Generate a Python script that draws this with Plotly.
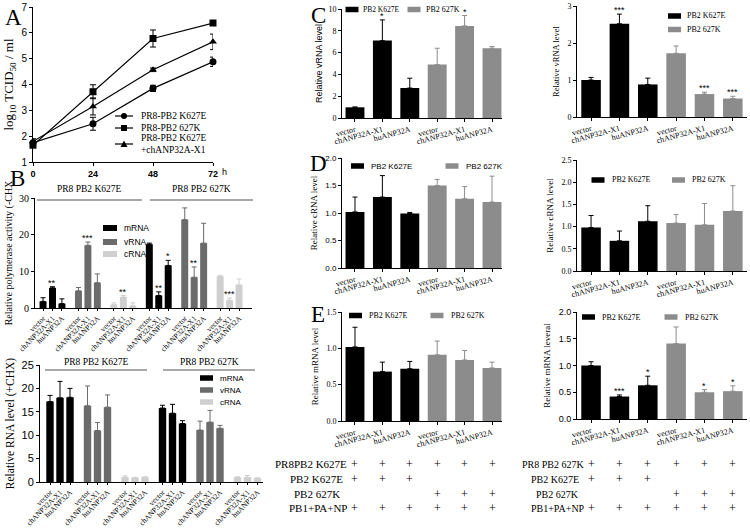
import plotly.graph_objects as go

# ---------------- data ----------------
hours = [0, 24, 48, 72]
a_k627e = [1.75, 2.48, 3.85, 4.88]
a_k627e_err = [0.08, 0.25, 0.12, 0.18]
a_627k = [1.65, 3.72, 5.78, 6.38]
a_627k_err = [0.08, 0.27, 0.33, 0.05]
a_x1 = [1.80, 3.15, 4.57, 5.65]
a_x1_err = [0.10, 0.33, 0.07, 0.30]
a_names = ["PR8-PB2 K627E", "PR8-PB2 627K", "PR8-PB2 K627E<br>+chANP32A-X1"]

constructs = ["vector", "chANP32A-X1", "huANP32A"]
viruses = ["PB2 K627E", "PB2 627K"]
rna_types = ["mRNA", "vRNA", "cRNA"]
b_group_titles = ["PR8 PB2 K627E", "PR8 PB2 627K"]

# B top (-CHX): K627E x3 then 627K x3
b1_mrna = [1.8, 5.5, 1.2, 17.4, 3.4, 11.6]
b1_mrna_err = [1.0, 0.3, 1.3, 0.3, 1.0, 1.4]
b1_mrna_sig = ["", "**", "", "", "**", "*"]
b1_vrna = [4.7, 17.1, 6.9, 24.1, 8.4, 17.7]
b1_vrna_err = [0.9, 0.9, 2.4, 3.2, 2.8, 5.4]
b1_vrna_sig = ["", "***", "", "", "**", ""]
b1_crna = [0.9, 3.0, 0.6, 8.6, 2.1, 6.3]
b1_crna_err = [0.5, 0.4, 0.8, 0.3, 0.6, 1.6]
b1_crna_sig = ["", "**", "", "", "***", ""]

# B bottom (+CHX)
b2_mrna = [17.2, 18.0, 18.1, 15.8, 14.7, 12.5]
b2_mrna_err = [1.3, 3.5, 1.9, 0.6, 1.9, 0.6]
b2_vrna = [16.3, 11.0, 16.0, 11.1, 12.8, 11.5]
b2_vrna_err = [4.2, 1.7, 2.6, 1.9, 2.5, 0.6]
b2_crna = [1.0, 0.9, 1.0, 1.0, 1.0, 0.8]
b2_crna_err = [0.3, 0.1, 0.1, 0.1, 0.4, 0.1]

# C-E: vector, chANP32A-X1, huANP32A for K627E then 627K
c1 = [0.98, 7.1, 2.75, 4.9, 8.45, 6.4]
c1_err = [0.03, 1.9, 0.9, 1.5, 0.95, 0.15]
c1_sig = ["", "*", "", "", "*", ""]
c2 = [1.0, 2.52, 0.88, 1.72, 0.62, 0.5]
c2_err = [0.07, 0.26, 0.17, 0.2, 0.05, 0.06]
c2_sig = ["", "***", "", "", "***", "***"]
d1 = [1.02, 1.29, 0.99, 1.5, 1.26, 1.2]
d1_err = [0.27, 0.39, 0.02, 0.11, 0.22, 0.47]
d2 = [0.98, 0.68, 1.12, 1.08, 1.04, 1.35]
d2_err = [0.27, 0.22, 0.35, 0.19, 0.48, 0.57]
e1 = [1.02, 0.68, 0.72, 0.91, 0.84, 0.73]
e1_err = [0.27, 0.13, 0.1, 0.19, 0.13, 0.08]
e2 = [1.0, 0.42, 0.63, 1.41, 0.5, 0.52]
e2_err = [0.07, 0.03, 0.17, 0.31, 0.05, 0.1]
e2_sig = ["", "***", "*", "", "*", "*"]

table_left_labels = ["PR8PB2 K627E", "PB2 K627E", "PB2 627K", "PB1+PA+NP"]
table_right_labels = ["PR8 PB2 627K", "PB2 K627E", "PB2 627K", "PB1+PA+NP"]
table_marks = [[1, 1, 1, 1, 1, 1], [1, 1, 1, 0, 0, 0], [0, 0, 0, 1, 1, 1], [1, 1, 1, 1, 1, 1]]

# ---------------- style ----------------
W, H = 750, 528
SERIF = "Liberation Serif"
SANS = "Liberation Sans"
BLACK = "#000000"
GREY = "#8c8c8c"
B_COLORS = ["#000000", "#6b6b6b", "#cfcfcf"]


def fx(p):
    return p / W


def fy(p):
    return 1 - p / H


fig = go.Figure()
annotations = []
shapes = []


def xax(d0, d1, rng, anchor, **kw):
    base = dict(domain=[fx(d0), fx(d1)], range=rng, anchor=anchor, showline=True,
                linecolor="black", linewidth=1, ticks="outside", ticklen=3,
                tickcolor="black", showgrid=False, zeroline=False, automargin=False)
    base.update(kw)
    return base


def yax(top, bottom, rng, anchor, **kw):
    base = dict(domain=[fy(bottom), fy(top)], range=rng, anchor=anchor, showline=True,
                linecolor="black", linewidth=1, ticks="outside", ticklen=3,
                tickcolor="black", showgrid=False, zeroline=False, automargin=False)
    base.update(kw)
    return base


def legend_bar(xc, yc, color, text, font, w=13, h=5.5, gap=5):
    shapes.append(dict(type="rect", xref="paper", yref="paper",
                       x0=fx(xc - w / 2), x1=fx(xc + w / 2),
                       y0=fy(yc + h / 2), y1=fy(yc - h / 2),
                       fillcolor=color, line=dict(width=0)))
    annotations.append(dict(x=fx(xc + w / 2 + gap), y=fy(yc), xref="paper", yref="paper",
                            text=text, showarrow=False, xanchor="left", yanchor="middle",
                            font=font))


# ---------------- Panel A ----------------
a_series = [(a_k627e, a_k627e_err, "circle"), (a_627k, a_627k_err, "square"),
            (a_x1, a_x1_err, "triangle-up")]
for (vals, errs, sym), name in zip(a_series, a_names):
    fig.add_trace(go.Scatter(
        x=hours, y=vals, name=name, mode="lines+markers", xaxis="x", yaxis="y",
        marker=dict(symbol=sym, size=7, color="black"), line=dict(color="black", width=1.2),
        error_y=dict(type="data", array=errs, color="black", thickness=1, width=3),
        cliponaxis=False, showlegend=False))

# A legend (manual)
a_leg_rows = [116, 128, 144]
for (vals, errs, sym), name, yc in zip(a_series, a_names, a_leg_rows):
    shapes.append(dict(type="line", xref="paper", yref="paper", x0=fx(115), x1=fx(133),
                       y0=fy(yc), y1=fy(yc), line=dict(color="black", width=1.2)))
    if sym == "circle":
        shapes.append(dict(type="circle", xref="paper", yref="paper", x0=fx(121), x1=fx(127),
                           y0=fy(yc + 3), y1=fy(yc - 3), fillcolor="black", line=dict(width=0)))
    elif sym == "square":
        shapes.append(dict(type="rect", xref="paper", yref="paper", x0=fx(121), x1=fx(127),
                           y0=fy(yc + 3), y1=fy(yc - 3), fillcolor="black", line=dict(width=0)))
    else:
        shapes.append(dict(type="path", xref="paper", yref="paper",
                           path=f"M {fx(120.5)} {fy(yc + 3)} L {fx(127.5)} {fy(yc + 3)} L {fx(124)} {fy(yc - 3.5)} Z",
                           fillcolor="black", line=dict(width=0)))
    annotations.append(dict(x=fx(139), y=fy(yc), xref="paper", yref="paper", text=name,
                            showarrow=False, xanchor="left", yanchor="middle", align="left",
                            font=dict(family=SERIF, size=9.5, color="black")))

annotations.append(dict(x=72, y=fy(172), xref="x", yref="paper", text="h", xshift=7,
                        showarrow=False, xanchor="left", yanchor="middle",
                        font=dict(family=SANS, size=9, color="black")))

# ---------------- Panel B ----------------
B_UNIT_GAP = 3.75


def b_pos(v, t, i):
    return (v * 3 + t) * B_UNIT_GAP + i


b1_vals = [b1_mrna, b1_vrna, b1_crna]
b1_errs = [b1_mrna_err, b1_vrna_err, b1_crna_err]
b1_sigs = [b1_mrna_sig, b1_vrna_sig, b1_crna_sig]
b2_vals = [b2_mrna, b2_vrna, b2_crna]
b2_errs = [b2_mrna_err, b2_vrna_err, b2_crna_err]

b_tickvals, b_ticktext = [], []
for v in range(2):
    for t in range(3):
        for i in range(3):
            b_tickvals.append(b_pos(v, t, i))
            b_ticktext.append(constructs[i])

for t, rna in enumerate(rna_types):
    xs = [b_pos(v, t, i) for v in range(2) for i in range(3)]
    fig.add_trace(go.Bar(x=xs, y=b1_vals[t], name=rna, xaxis="x2", yaxis="y2", width=0.74,
                         marker=dict(color=B_COLORS[t], line=dict(width=0)),
                         error_y=dict(type="data", symmetric=False, array=b1_errs[t],
                                      arrayminus=[0] * 6, color=B_COLORS[t], thickness=1, width=2.5),
                         showlegend=False))
    for k, s in enumerate(b1_sigs[t]):
        if s:
            annotations.append(dict(x=xs[k], y=b1_vals[t][k] + b1_errs[t][k], xref="x2", yref="y2",
                                    text=s, showarrow=False, yanchor="bottom", yshift=-3,
                                    font=dict(family=SANS, size=9, color="black")))
    fig.add_trace(go.Bar(x=xs, y=b2_vals[t], name=rna, xaxis="x3", yaxis="y3", width=0.74,
                         marker=dict(color=B_COLORS[t], line=dict(width=0)),
                         error_y=dict(type="data", symmetric=False, array=b2_errs[t],
                                      arrayminus=[0] * 6, color=B_COLORS[t], thickness=1, width=2.5),
                         showlegend=False))

# group lines and labels
for (ly, ty, segs) in [(200, 189, [(37, 142), (150, 253)]), (370, 362, [(45, 147), (163, 255)])]:
    for (x0, x1), title in zip(segs, b_group_titles):
        shapes.append(dict(type="line", xref="paper", yref="paper", x0=fx(x0), x1=fx(x1),
                           y0=fy(ly), y1=fy(ly), line=dict(color="#555555", width=1)))
        annotations.append(dict(x=fx((x0 + x1) / 2), y=fy(ty), xref="paper", yref="paper",
                                text=title, showarrow=False, xanchor="center", yanchor="middle",
                                font=dict(family=SERIF, size=9.5, color="black")))

for t, rna in enumerate(rna_types):
    legend_bar(110, [228, 242, 254][t], B_COLORS[t], rna,
               dict(family=SANS, size=8.5, color="black"), w=14, h=6)
    legend_bar(206.5, [378, 390, 402][t], B_COLORS[t], rna,
               dict(family=SANS, size=8, color="black"), w=13, h=5.5)

# ---------------- Panels C-E ----------------
panels = [
    (c1, c1_err, c1_sig, "x4", "y4"),
    (c2, c2_err, c2_sig, "x5", "y5"),
    (d1, d1_err, None, "x6", "y6"),
    (d2, d2_err, None, "x7", "y7"),
    (e1, e1_err, None, "x8", "y8"),
    (e2, e2_err, e2_sig, "x9", "y9"),
]
for vals, errs, sigs, xa, ya in panels:
    for v, (vname, col) in enumerate(zip(viruses, [BLACK, GREY])):
        xs = [v * 3 + i for i in range(3)]
        fig.add_trace(go.Bar(x=xs, y=vals[v * 3:v * 3 + 3], name=vname, xaxis=xa, yaxis=ya,
                             width=0.69, marker=dict(color=col, line=dict(width=0)),
                             error_y=dict(type="data", symmetric=False, array=errs[v * 3:v * 3 + 3],
                                          arrayminus=[0] * 3, color=col, thickness=1, width=2.5),
                             showlegend=False))
    if sigs:
        for k, s in enumerate(sigs):
            if s:
                annotations.append(dict(x=k, y=vals[k] + errs[k], xref=xa, yref=ya, text=s,
                                        showarrow=False, yanchor="bottom", yshift=-3,
                                        font=dict(family=SANS, size=9, color="black")))

# legends C-E
ser8 = dict(family=SERIF, size=8, color="black")
legend_bar(352, 9.5, BLACK, viruses[0], dict(family=SERIF, size=7.5, color="black"), gap=2)
legend_bar(414, 9.5, GREY, viruses[1], ser8, gap=3)
legend_bar(674.5, 16, BLACK, viruses[0], ser8, gap=4)
legend_bar(674.5, 29.5, GREY, viruses[1], ser8, gap=4)
legend_bar(357.5, 166, BLACK, viruses[0], dict(family=SANS, size=8, color="black"))
legend_bar(452, 166, GREY, viruses[1], dict(family=SANS, size=8, color="black"))
legend_bar(598, 180, BLACK, viruses[0], ser8)
legend_bar(678.5, 180, GREY, viruses[1], ser8)
legend_bar(355.5, 315.5, BLACK, viruses[0], ser8)
legend_bar(437, 315.5, GREY, viruses[1], ser8)
legend_bar(588.5, 317, BLACK, viruses[0], ser8)
legend_bar(671, 317, GREY, viruses[1], ser8)

# panel letters
for letter, (lx, ly) in zip("ABCDE", [(13, 17), (17, 178), (318, 16), (318, 163), (318, 314)]):
    annotations.append(dict(x=fx(lx), y=fy(ly), xref="paper", yref="paper", text=letter,
                            showarrow=False, xanchor="center", yanchor="middle",
                            font=dict(family=SERIF, size=23, color="black")))

# table
row_y = [464, 479, 494, 508]
left_rx = [349, 345, 342, 349]
right_rx = [586, 581, 581, 587]
for r in range(4):
    annotations.append(dict(x=fx(left_rx[r]), y=fy(row_y[r]), xref="paper", yref="paper",
                            text=table_left_labels[r], showarrow=False, xanchor="right",
                            yanchor="middle", font=dict(family=SERIF, size=11, color="black")))
    annotations.append(dict(x=fx(right_rx[r]), y=fy(row_y[r]), xref="paper", yref="paper",
                            text=table_right_labels[r], showarrow=False, xanchor="right",
                            yanchor="middle", font=dict(family=SERIF, size=10, color="black")))
    for k, m in enumerate(table_marks[r]):
        if m:
            for xa in ["x8", "x9"]:
                annotations.append(dict(x=k, y=fy(row_y[r]), xref=xa, yref="paper", text="+",
                                        showarrow=False, xanchor="center", yanchor="middle",
                                        font=dict(family=SERIF, size=12, color="black")))

# ---------------- axes ----------------
tick_s8 = dict(family=SERIF, size=8, color="black")
six_vals = list(range(6))
six_text = constructs * 2
L_RANGE = [-0.474, 5.365]
R_RANGE = [-0.496, 5.5]
cx = dict(tickvals=six_vals, ticktext=six_text, tickangle=-15, tickfont=tick_s8)

fig.update_layout(
    width=W, height=H, margin=dict(l=0, r=0, t=0, b=0),
    paper_bgcolor="white", plot_bgcolor="white", showlegend=False, barmode="overlay",
    xaxis=xax(33, 213, [0, 72], "y", tickvals=hours, ticktext=["0", "24", "48", "72"],
              tickfont=dict(family=SANS, size=9, color="black", weight="bold")),
    yaxis=yax(7, 162, [1, 7], "x", tickvals=[1, 2, 3, 4, 5, 6, 7],
              tickfont=dict(family=SANS, size=10, color="black"),
              title=dict(text="log<sub>10</sub> TCID<sub>50</sub> / ml", standoff=4,
                         font=dict(family=SERIF, size=13, color="black"))),
    xaxis2=xax(35, 252, [-0.85, 22.12], "y2", tickvals=b_tickvals, ticktext=b_ticktext,
               tickangle=-45, tickfont=dict(family=SERIF, size=7.5, color="black"), ticklen=2),
    yaxis2=yax(198, 308, [0, 30], "x2", tickvals=[0, 10, 20, 30],
               tickfont=dict(family=SERIF, size=10, color="black"),
               title=dict(text="Relative polymerase activity (-CHX", standoff=4,
                          font=dict(family=SERIF, size=10, color="black"))),
    xaxis3=xax(40, 263, [-1.0, 21.3], "y3", tickvals=b_tickvals, ticktext=b_ticktext,
               tickangle=-45, tickfont=dict(family=SERIF, size=7.5, color="black"), ticklen=2),
    yaxis3=yax(365, 482, [0, 25], "x3", tickvals=[0, 5, 10, 15, 20, 25],
               tickfont=dict(family=SANS, size=11, color="black"),
               title=dict(text="Relative RNA level (+CHX)", standoff=4,
                          font=dict(family=SERIF, size=11.5, color="black"))),
    xaxis4=xax(342, 502, L_RANGE, "y4", **cx),
    yaxis4=yax(9, 118, [0, 10], "x4", tickvals=[0, 2, 4, 6, 8, 10],
               tickfont=dict(family=SERIF, size=8, color="black"),
               title=dict(text="Relative vRNA level", standoff=4,
                          font=dict(family=SANS, size=9, color="black"))),
    xaxis5=xax(577, 747, R_RANGE, "y5", **cx),
    yaxis5=yax(6, 117, [0, 3], "x5", tickvals=[0, 1, 2, 3],
               tickfont=dict(family=SERIF, size=8, color="black"),
               title=dict(text="Relative vRNA level", standoff=6,
                          font=dict(family=SERIF, size=8.5, color="black"))),
    xaxis6=xax(342, 502, L_RANGE, "y6", **cx),
    yaxis6=yax(158, 268, [0, 2], "x6", tickvals=[0, 0.5, 1, 1.5, 2], tickformat=".1f",
               tickfont=dict(family=SANS, size=8, color="black"),
               title=dict(text="Relative cRNA level", standoff=6,
                          font=dict(family=SERIF, size=9, color="black"))),
    xaxis7=xax(577, 747, R_RANGE, "y7", **cx),
    yaxis7=yax(160, 271, [0, 2.5], "x7", tickvals=[0, 0.5, 1, 1.5, 2, 2.5], tickformat=".1f",
               tickfont=dict(family=SERIF, size=8, color="black"),
               title=dict(text="Relative cRNA level", standoff=6,
                          font=dict(family=SERIF, size=9, color="black"))),
    xaxis8=xax(342, 502, L_RANGE, "y8", **cx),
    yaxis8=yax(312, 421, [0, 1.5], "x8", tickvals=[0, 0.5, 1, 1.5], tickformat=".1f",
               tickfont=dict(family=SERIF, size=8, color="black"),
               title=dict(text="Relative mRNA level", standoff=6,
                          font=dict(family=SERIF, size=9, color="black"))),
    xaxis9=xax(577, 747, R_RANGE, "y9", **cx),
    yaxis9=yax(312, 419, [0, 2], "x9", tickvals=[0, 0.5, 1, 1.5, 2], tickformat=".1f",
               tickfont=dict(family=SANS, size=9, color="black"),
               title=dict(text="Relative mRNA leveral", standoff=6,
                          font=dict(family=SERIF, size=9, color="black"))),
    annotations=annotations, shapes=shapes,
)

fig.write_html("out.html", config={"displayModeBar": False},
               post_script="document.body.style.margin='0px';")
